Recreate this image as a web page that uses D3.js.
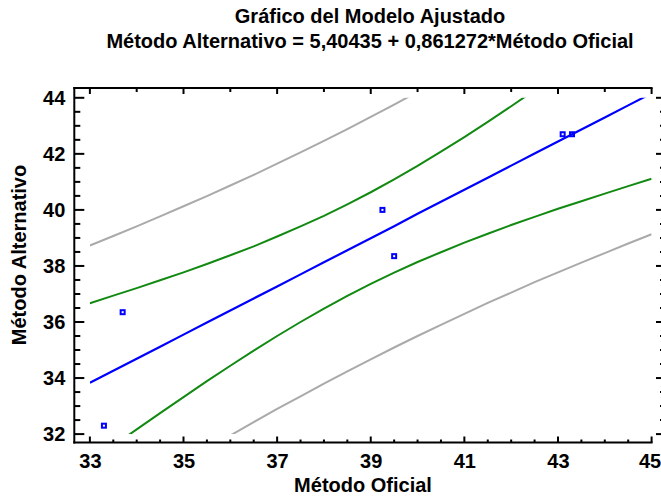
<!DOCTYPE html>
<html>
<head>
<meta charset="utf-8">
<script src="https://cdn.jsdelivr.net/npm/d3@7"></script>
<style>
  body { margin: 0; background: #fff; }
  text { font-family: "Liberation Sans", Arial, sans-serif; font-weight: bold; fill: #000; }
</style>
</head>
<body>
<div id="main"></div>
<script>
// observed points (Método Oficial, Método Alternativo)
const obsX = [33.3, 33.7, 39.25, 39.5, 43.1, 43.3];
const obsY = [32.3, 36.35, 40.0, 38.35, 42.7, 42.7];

const curveX = [33, 33.5, 34, 34.5, 35, 35.5, 36, 36.5, 37, 37.5, 38, 38.5, 39,
                39.5, 40, 40.5, 41, 41.5, 42, 42.5, 43, 43.5, 44, 44.5, 45];
const fitY = [33.83, 34.26, 34.69, 35.12, 35.55, 35.98, 36.41, 36.84, 37.27, 37.70, 38.13, 38.56, 38.99,
              39.42, 39.86, 40.29, 40.72, 41.15, 41.58, 42.01, 42.44, 42.87, 43.30, 43.73, 44.16];
const confUpper = [36.67, 36.94, 37.21, 37.49, 37.77, 38.07, 38.38, 38.70, 39.05, 39.41, 39.79, 40.20, 40.63,
                   41.09, 41.57, 42.08, 42.60, 43.14, 43.70, 44.27, 44.84, 45.43, 46.02, 46.62, 47.22];
const confLower = [30.98, 31.58, 32.17, 32.75, 33.32, 33.89, 34.44, 34.98, 35.50, 36.00, 36.48, 36.93, 37.36,
                   37.76, 38.14, 38.49, 38.83, 39.15, 39.46, 39.75, 40.04, 40.31, 40.58, 40.85, 41.11];
const predUpper = [38.73, 39.07, 39.41, 39.77, 40.13, 40.49, 40.87, 41.25, 41.65, 42.05, 42.46, 42.88, 43.32,
                   43.76, 44.21, 44.67, 45.14, 45.62, 46.11, 46.60, 47.11, 47.62, 48.14, 48.66, 49.19];
const predLower = [28.92, 29.44, 29.96, 30.47, 30.97, 31.47, 31.95, 32.43, 32.90, 33.35, 33.80, 34.24, 34.67,
                   35.09, 35.50, 35.90, 36.29, 36.68, 37.05, 37.42, 37.77, 38.12, 38.46, 38.80, 39.13];

const xTicks = [33, 35, 37, 39, 41, 43, 45];
const yTicks = [32, 34, 36, 38, 40, 42, 44];

const title1 = "Gráfico del Modelo Ajustado";
const title2 = "Método Alternativo = 5,40435 + 0,861272*Método Oficial";
const xTitle = "Método Oficial";
const yTitle = "Método Alternativo";

const svgWidth = 661;
const svgHeight = 497;
const svg = d3.select("#main")
              .append("svg")
              .attr("width", svgWidth)
              .attr("height", svgHeight);

const xScale = d3.scaleLinear().domain([32.65, 45]).range([73.5, 651.6]);
const yScale = d3.scaleLinear().domain([31.7, 44.35]).range([442.5, 88]);

const plotLeft = 74.3, plotBottom = 442.5, plotTop = 88, plotRight = 651.6;

// clip the curves to the 33..45 / 32..44 window
svg.append("clipPath")
   .attr("id", "clip")
   .append("rect")
   .attr("x", xScale(33))
   .attr("y", yScale(44))
   .attr("width", xScale(45) - xScale(33))
   .attr("height", yScale(32) - yScale(44));

const line = d3.line()
               .x(function(d, i) { return xScale(curveX[i]) })
               .y(function(d) { return yScale(d) });

const curves = [
  { values: predUpper, color: "#aaaaaa", width: 2 },
  { values: predLower, color: "#aaaaaa", width: 2 },
  { values: confUpper, color: "#128a12", width: 2 },
  { values: confLower, color: "#128a12", width: 2 },
  { values: fitY, color: "#0000ff", width: 2.2 }
];

svg.append("g")
   .attr("clip-path", "url(#clip)")
   .selectAll("path")
   .data(curves)
   .enter()
   .append("path")
   .attr("d", function(d) { return line(d.values) })
   .attr("fill", "none")
   .attr("stroke", function(d) { return d.color })
   .attr("stroke-width", function(d) { return d.width });

svg.selectAll(".pt")
   .data(obsX)
   .enter()
   .append("rect")
   .attr("class", "pt")
   .attr("x", function(d) { return xScale(d) - 2 })
   .attr("y", function(d, i) { return yScale(obsY[i]) - 2 })
   .attr("width", 4)
   .attr("height", 4)
   .attr("fill", "none")
   .attr("stroke", "#0000ff")
   .attr("stroke-width", 2);

// axes: ticks point inward
const xMinor = d3.range(33, 45.01, 0.5);
const xTop = d3.range(33, 45.01, 1);
const yMinor = d3.range(32, 44.01, 0.5);

const bottomAxis = d3.axisBottom(xScale).tickValues(xTicks).tickSize(0).tickFormat(d3.format("d"));
const leftAxis = d3.axisLeft(yScale).tickValues(yTicks).tickSize(0).tickPadding(9).tickFormat(d3.format("d"));

svg.append("g")
   .attr("id", "x-axis")
   .attr("transform", "translate(0," + plotBottom + ")")
   .call(bottomAxis)
   .call(function(g) { g.select(".domain").remove() })
   .selectAll("text")
   .attr("y", 25)
   .attr("dy", null)
   .attr("x", function(d) { return d === 45 ? -2 : 0 })
   .style("font-size", "20px");

svg.append("g")
   .attr("id", "y-axis")
   .attr("transform", "translate(" + plotLeft + ",0)")
   .call(leftAxis)
   .call(function(g) { g.select(".domain").remove() })
   .selectAll("text")
   .style("font-size", "20px");

const ticks = svg.append("g").attr("stroke", "#000").attr("stroke-width", 2);

// bottom
xMinor.forEach(function(v) {
  const len = xTicks.indexOf(v) >= 0 ? 6 : 3;
  ticks.append("line").attr("x1", xScale(v)).attr("x2", xScale(v)).attr("y1", plotBottom).attr("y2", plotBottom - len);
});

// top
xTop.forEach(function(v) {
  const len = xTicks.indexOf(v) >= 0 ? 6 : 4;
  ticks.append("line").attr("x1", xScale(v)).attr("x2", xScale(v)).attr("y1", plotTop).attr("y2", plotTop + len);
});

// left and right
yMinor.forEach(function(v) {
  const len = yTicks.indexOf(v) >= 0 ? 10 : 6;
  ticks.append("line").attr("y1", yScale(v)).attr("y2", yScale(v)).attr("x1", plotLeft).attr("x2", plotLeft + len);
  ticks.append("line").attr("y1", yScale(v)).attr("y2", yScale(v)).attr("x1", 666).attr("x2", 666 - len);
});

ticks.append("line").attr("x1", plotLeft).attr("x2", plotLeft).attr("y1", plotTop - 1).attr("y2", plotBottom + 1);
ticks.append("line").attr("x1", plotLeft - 1).attr("x2", plotRight + 1).attr("y1", plotBottom).attr("y2", plotBottom);
ticks.append("line").attr("x1", plotLeft - 1).attr("x2", plotRight + 1).attr("y1", plotTop).attr("y2", plotTop);

// titles
svg.append("text").attr("x", 370).attr("y", 23).attr("text-anchor", "middle").style("font-size", "20px").text(title1);
svg.append("text").attr("x", 370).attr("y", 48).attr("text-anchor", "middle").style("font-size", "20px").text(title2);
svg.append("text").attr("x", 363).attr("y", 492).attr("text-anchor", "middle").style("font-size", "20px").text(xTitle);
svg.append("text")
   .attr("transform", "translate(26," + 255 + ") rotate(-90)")
   .attr("text-anchor", "middle")
   .style("font-size", "20px")
   .text(yTitle);
</script>
</body>
</html>
